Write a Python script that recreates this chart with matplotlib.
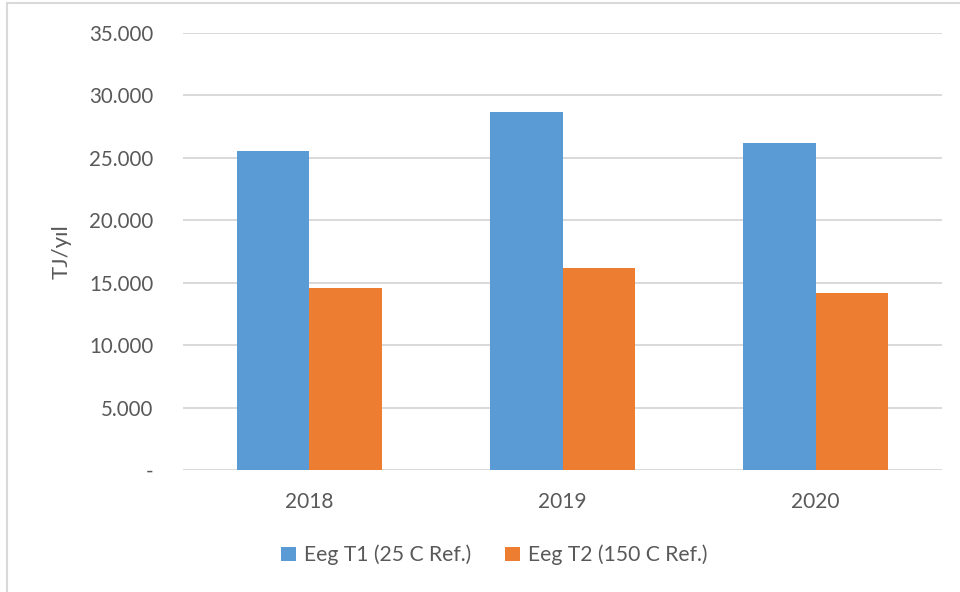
import matplotlib
matplotlib.use("Agg")
import matplotlib.pyplot as plt
from matplotlib.ticker import FuncFormatter, FixedLocator
from matplotlib.patches import Rectangle
import numpy as np

plt.rcParams['font.family'] = ['Lato', 'DejaVu Sans']

years = ["2018", "2019", "2020"]
series_names = ["Eeg T1 (25 C Ref.)", "Eeg T2 (150 C Ref.)"]
eeg_t1 = [25550, 28630, 26150]
eeg_t2 = [14550, 16190, 14150]
y_ticks = [0, 5000, 10000, 15000, 20000, 25000, 30000, 35000]
y_label = "TJ/yıl"

blue = "#5B9BD5"
orange = "#ED7D31"
text_col = "#595959"
grid_col = "#D9D9D9"

fig = plt.figure(figsize=(9.6, 5.92), dpi=100)
ax = fig.add_axes([0.1903, 0.2061, 0.7913, 0.7387])

x = np.arange(len(years))
w = 0.286
b1 = ax.bar(x - w / 2, eeg_t1, width=w, color=blue, label=series_names[0], zorder=3)
b2 = ax.bar(x + w / 2, eeg_t2, width=w, color=orange, label=series_names[1], zorder=3)

ax.set_xlim(-0.5, len(years) - 0.5)
ax.set_ylim(0, 35000)
ax.yaxis.set_major_locator(FixedLocator(y_ticks))


def fmt(v, pos):
    if v == 0:
        return "-"
    return f"{int(v):,}".replace(",", ".")


ax.yaxis.set_major_formatter(FuncFormatter(fmt))
ax.set_xticks(x)
ax.set_xticklabels(years)

for s in ax.spines.values():
    s.set_visible(False)
ax.grid(axis="y", color=grid_col, linewidth=1.4, zorder=0)
ax.set_axisbelow(True)
ax.tick_params(axis="both", length=0, colors=text_col)
ax.tick_params(axis="y", pad=21, labelsize=14.8)
ax.tick_params(axis="x", pad=16, labelsize=15)

ax.set_ylabel(y_label, color=text_col, fontsize=16)
ax.yaxis.set_label_coords(-0.159, 0.5)
ax.yaxis.label.set_verticalalignment("center")

leg = fig.legend(handles=[b1, b2], labels=series_names, loc="center",
                 bbox_to_anchor=(0.515, 0.0625), ncol=2, frameon=False,
                 fontsize=15.2, handlelength=0.7, handleheight=0.7,
                 handletextpad=0.4, columnspacing=1.6)
for t in leg.get_texts():
    t.set_color(text_col)

# outer chart frame (top and left edges visible)
fig.patches.append(Rectangle((7 / 960, -0.1), 1.2, (1 - 3 / 592) + 0.1,
                             transform=fig.transFigure, fill=False,
                             edgecolor="#D9D9D9", linewidth=1.5))

fig.savefig("out.png", dpi=100, facecolor="white")
